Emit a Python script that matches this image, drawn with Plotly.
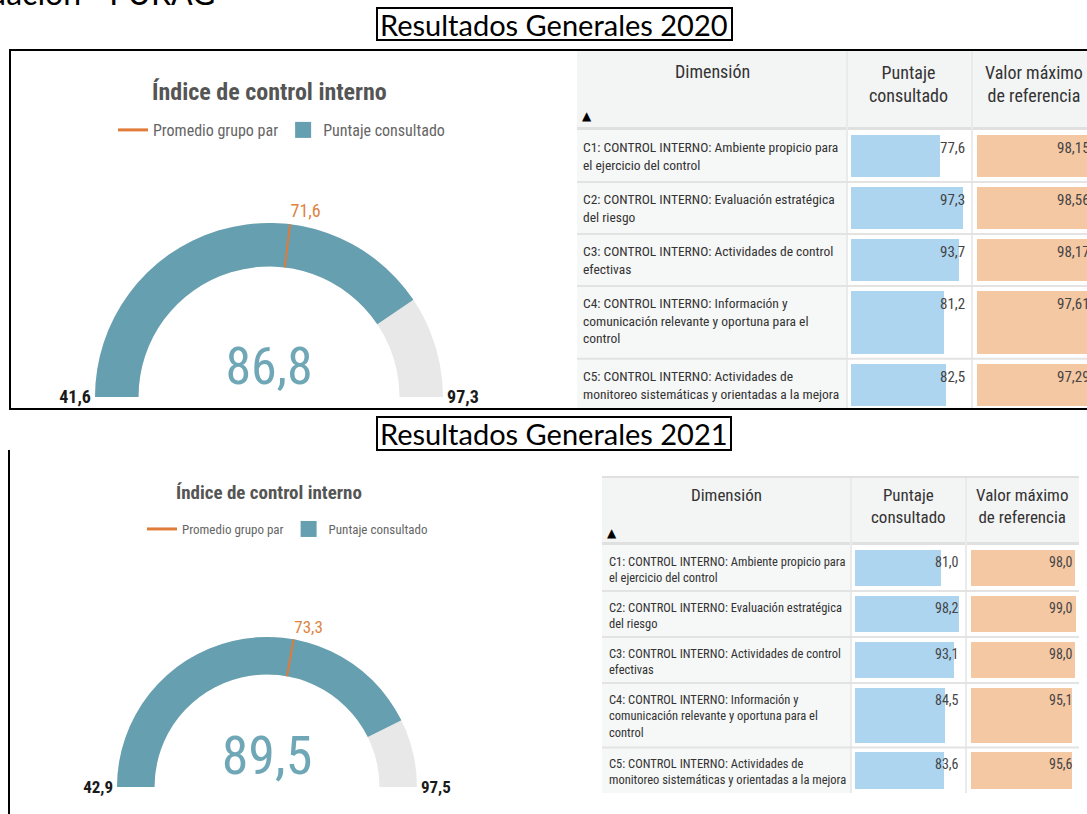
import plotly.graph_objects as go

W, H = 1087, 814

# ---------------- data ----------------
gauge_min = [41.6, 42.9]
gauge_max = [97.3, 97.5]
gauge_value = [86.8, 89.5]
peer_average = [71.6, 73.3]

dimension_labels = [
    "C1: CONTROL INTERNO: Ambiente propicio para<br>el ejercicio del control",
    "C2: CONTROL INTERNO: Evaluación estratégica<br>del riesgo",
    "C3: CONTROL INTERNO: Actividades de control<br>efectivas",
    "C4: CONTROL INTERNO: Información y<br>comunicación relevante y oportuna para el<br>control",
    "C5: CONTROL INTERNO: Actividades de<br>monitoreo sistemáticas y orientadas a la mejora",
]
score_2020 = [77.6, 97.3, 93.7, 81.2, 82.5]
max_ref_2020 = [98.15, 98.56, 98.17, 97.61, 97.29]
score_2021 = [81.0, 98.2, 93.1, 84.5, 83.6]
max_ref_2021 = [98.0, 99.0, 98.0, 95.1, 95.6]

header_labels = ["Dimensión", "Puntaje<br>consultado", "Valor máximo<br>de referencia"]
legend_labels = ["Promedio grupo par", "Puntaje consultado"]
gauge_title = "Índice de control interno"
section_titles = ["Resultados Generales 2020", "Resultados Generales 2021"]
page_heading = "Evaluación - FURAG"

# ---------------- style ----------------
NARROW = "Liberation Sans Narrow, Arial Narrow, Roboto Condensed, DejaVu Sans Condensed, Roboto, sans-serif"
DOC = "Lato, Carlito, Calibri, Open Sans, sans-serif"
TEAL = "#659FB0"
NUM = "#6FA7B7"
ARC_BG = "#E8E8E8"
ORANGE = "#E07B39"
ORANGE_T = "#DC8442"
BLUE = "#ADD5F0"
PEACH = "#F5C8A4"
TXT = "#333333"
HDR_BG = "#F3F4F4"
DIM_BG = "#F6F7F7"
SEP = "#E3E3E3"


def px(x):
    return min(max(x / W, 0), 1)


def py(y):
    return min(max(1 - y / H, 0), 1)


def fmt(v, d=1):
    return f"{v:.{d}f}".replace(".", ",")


def note(text, x, y, size, family=NARROW, color=TXT, xanchor="center", yanchor="middle", **kw):
    return dict(text=text, x=x, y=y, xref=kw.pop("xref", "paper"), yref=kw.pop("yref", "paper"),
                xanchor=xanchor, yanchor=yanchor, showarrow=False,
                font=dict(family=family, size=size, color=color, **kw.pop("fkw", {})), **kw)


panels = [
    dict(box=(377, 8, 732, 40), title_c=(554, 24),
         g_cx=269, g_bot=397, g_r=174, g_title=(269, 92, 24), leg=(113, 130, 16),
         num_size=52, tick_size=18,
         tbl=(577, 1087), cols=(847, 972), hdr=(50, 127), tbl_top=None,
         rows_top=130, rows_clip=409, unit=20.8,
         bars=((851, 966), (977, 1092)), vals_right=(967, 1092),
         dim_x=581, dim_size=13.5, hdr_size=18, val_size=15,
         hdr_x=(712, 909, 1034), hdr_y=(71, 83.5, 83.5), tri=(587, 116)),
    dict(box=(377, 417, 731, 450), title_c=(554, 433),
         g_cx=267, g_bot=787, g_r=150, g_title=(269, 492, 19), leg=(142, 529, 13),
         num_size=54, tick_size=17,
         tbl=(602, 1079), cols=(851, 966), hdr=(478, 542), tbl_top=477,
         rows_top=545, rows_clip=793, unit=18.4,
         bars=((855, 961), (971, 1077)), vals_right=(961, 1075),
         dim_x=607, dim_size=12.5, hdr_size=17, val_size=14,
         hdr_x=(726, 908, 1022), hdr_y=(495, 506, 506), tri=(612, 533)),
]
tables = [(score_2020, max_ref_2020, 1, 2), (score_2021, max_ref_2021, 1, 1)]

fig = go.Figure()
shapes = []
annotations = []
layout_extra = {}

# heading cut at the top of the page
annotations.append(note(page_heading, 217 / W, 1 - 14 / H, 32, family=DOC, color="#000",
                        xanchor="right", yanchor="bottom"))

for i, st in enumerate(panels):
    scores, maxrefs, dec1, dec2 = tables[i]
    k1, k2 = 2 * i + 1, 2 * i + 2
    s1 = "" if k1 == 1 else str(k1)
    s2 = str(k2)

    # ---- section title box ----
    bx0, by0, bx1, by1 = st["box"]
    shapes.append(dict(type="rect", xref="paper", yref="paper", x0=px(bx0), x1=px(bx1),
                       y0=py(by1), y1=py(by0), line=dict(color="black", width=2)))
    annotations.append(note(section_titles[i], px(st["title_c"][0]), py(st["title_c"][1]), 29,
                            family=DOC, color="#000"))

    # ---- gauge ----
    gmin, gmax, peer = gauge_min[i], gauge_max[i], peer_average[i]
    r, cx, gb = st["g_r"], st["g_cx"], st["g_bot"]
    fig.add_trace(go.Indicator(
        mode="gauge+number", value=gauge_value[i],
        domain=dict(x=[px(cx - r), px(cx + r)], y=[py(gb), py(gb - r)]),
        number=dict(valueformat=".1f", font=dict(family=NARROW, size=st["num_size"], color=NUM)),
        gauge=dict(
            shape="angular",
            axis=dict(range=[gmin, gmax], tickvals=[gmin, peer, gmax],
                      ticktext=[f"<b>{fmt(gmin)}</b>",
                                f"<span style='color:{ORANGE_T}'>{fmt(peer)}</span>",
                                f"<b>{fmt(gmax)}</b>"],
                      ticks="", tickfont=dict(family=NARROW, size=st["tick_size"], color="#1a1a1a")),
            bar=dict(color=TEAL, thickness=1, line=dict(width=0)),
            bgcolor=ARC_BG, borderwidth=0,
            threshold=dict(line=dict(color=ORANGE, width=2), thickness=1, value=peer),
        ),
    ))
    gx, gy, gs = st["g_title"]
    annotations.append(note(gauge_title, px(gx), py(gy), gs, color="#555555", fkw=dict(weight="bold")))

    # ---- legend (dummy entries) ----
    leg_key = "legend" if i == 0 else "legend2"
    fig.add_trace(go.Scatter(x=[None], y=[None], mode="lines", name=legend_labels[0],
                             line=dict(color=ORANGE, width=3), legend=leg_key,
                             xaxis="x" + s1, yaxis="y" + s1, hoverinfo="skip"))
    fig.add_trace(go.Scatter(x=[None], y=[None], mode="markers", name=legend_labels[1],
                             marker=dict(symbol="square", size=16, color=TEAL), legend=leg_key,
                             xaxis="x" + s1, yaxis="y" + s1, hoverinfo="skip"))
    lx, ly, ls = st["leg"]
    layout_extra[leg_key] = dict(orientation="h", x=px(lx), y=py(ly), xanchor="left", yanchor="middle",
                                 font=dict(family=NARROW, size=ls, color="#666666"),
                                 bgcolor="rgba(0,0,0,0)", borderwidth=0, itemclick=False,
                                 itemdoubleclick=False)

    # ---- table geometry from label line counts ----
    units = [lab.count("<br>") + 1 + 0.5 for lab in dimension_labels]
    tops = []
    acc = 0.0
    for u in units:
        tops.append(acc)
        acc += u
    total = acc
    centers = [t + u / 2 for t, u in zip(tops, units)]
    widths = [u - 0.5 for u in units]
    unit = st["unit"]
    rt = st["rows_top"]
    tl, tr = st["tbl"]
    c1, c2 = st["cols"]
    h0, h1 = st["hdr"]

    # backgrounds
    shapes.append(dict(type="rect", xref="paper", yref="paper", x0=px(tl), x1=px(tr),
                       y0=py(h1), y1=py(h0), fillcolor=HDR_BG, line=dict(width=0), layer="below"))
    shapes.append(dict(type="rect", xref="paper", yref="paper", x0=px(tl), x1=px(tr),
                       y0=py(rt), y1=py(h1), fillcolor="#E0E0E0", line=dict(width=0), layer="below"))
    shapes.append(dict(type="rect", xref="paper", yref="paper", x0=px(tl), x1=px(c1 - 1),
                       y0=py(st["rows_clip"]), y1=py(rt), fillcolor=DIM_BG, line=dict(width=0), layer="below"))
    if st["tbl_top"] is not None:
        shapes.append(dict(type="line", xref="paper", yref="paper", x0=px(tl), x1=px(tr),
                           y0=py(st["tbl_top"]), y1=py(st["tbl_top"]), line=dict(color="#E0E0E0", width=2)))
    for cxl in (c1, c2):
        shapes.append(dict(type="line", xref="paper", yref="paper", x0=px(cxl), x1=px(cxl),
                           y0=py(st["rows_clip"]), y1=py(h0), line=dict(color="#EAEAEA", width=2), layer="below"))
    for t in tops[1:]:
        shapes.append(dict(type="line", xref="paper", yref="y" + s1, x0=px(tl), x1=px(tr),
                           y0=t, y1=t, line=dict(color=SEP, width=2), layer="below"))

    # header texts
    for lab, hx, hy in zip(header_labels, st["hdr_x"], st["hdr_y"]):
        annotations.append(note(lab, px(hx), py(hy), st["hdr_size"], align="center"))
    annotations.append(note("▲", px(st["tri"][0]), py(st["tri"][1]), 12, family="DejaVu Sans", color="#000"))

    # bars
    fig.add_trace(go.Bar(orientation="h", x=scores, y=centers, width=widths,
                         marker=dict(color=BLUE, line=dict(width=0)), xaxis="x" + s1, yaxis="y" + s1,
                         showlegend=False, hoverinfo="skip"))
    fig.add_trace(go.Bar(orientation="h", x=maxrefs, y=centers, width=widths,
                         marker=dict(color=PEACH, line=dict(width=0)), xaxis="x" + s2, yaxis="y" + s2,
                         showlegend=False, hoverinfo="skip"))

    dom_y = [py(rt + total * unit), py(rt)]
    for s, (b0, b1) in ((s1, st["bars"][0]), (s2, st["bars"][1])):
        b1c = min(b1, W)
        xmax = 100 * (b1c - b0) / (b1 - b0)
        layout_extra["xaxis" + s] = dict(domain=[px(b0), px(b1c)], range=[0, xmax], visible=False,
                                         fixedrange=True, anchor="y" + s)
        layout_extra["yaxis" + s] = dict(domain=dom_y, range=[total, 0], visible=False,
                                         fixedrange=True, anchor="x" + s)

    # row texts
    pad = 7 / unit
    for lab, t, sc, mr in zip(dimension_labels, tops, scores, maxrefs):
        annotations.append(note(lab, px(st["dim_x"]), t + pad, st["dim_size"], yref="y" + s1,
                                xanchor="left", yanchor="top", align="left"))
        annotations.append(note(fmt(sc, dec1), st["vals_right"][0] / W, t + pad, st["val_size"],
                                yref="y" + s1, color="#444444", xanchor="right", yanchor="top"))
        annotations.append(note(fmt(mr, dec2), st["vals_right"][1] / W, t + pad, st["val_size"],
                                yref="y" + s1, color="#444444", xanchor="right", yanchor="top"))

# frames
shapes.append(dict(type="rect", xref="paper", yref="paper", x0=10 / W, x1=1100 / W,
                   y0=py(409), y1=py(50), line=dict(color="black", width=2)))
shapes.append(dict(type="line", xref="paper", yref="paper", x0=9 / W, x1=9 / W,
                   y0=0, y1=py(450), line=dict(color="black", width=2)))

fig.update_layout(
    width=W, height=H, autosize=False,
    margin=dict(l=0, r=0, t=0, b=0),
    paper_bgcolor="white", plot_bgcolor="rgba(0,0,0,0)",
    separators=",.", hovermode=False, showlegend=True,
    shapes=shapes, annotations=annotations, bargap=0,
    **layout_extra,
)

fig.write_html("out.html", config={"displayModeBar": False},
               post_script="document.body.style.margin='0px';document.body.style.overflow='hidden';")
